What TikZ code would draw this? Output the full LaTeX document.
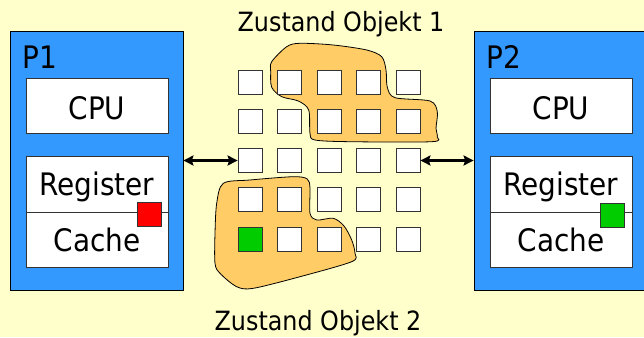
\documentclass[tikz,border=0pt]{standalone}
\usepackage{fontspec}
\setmainfont{DejaVu Sans Condensed}
\usetikzlibrary{arrows.meta}
\definecolor{bgyellow}{HTML}{FFFFCC}
\definecolor{procblue}{HTML}{3399FF}
\definecolor{blobfill}{HTML}{FFCC66}
\definecolor{cellgreen}{HTML}{00CC00}
\definecolor{edgegray}{HTML}{333333}
\tikzset{
  proc/.style={draw=black, line width=0.8pt, fill=procblue, minimum width=173pt, minimum height=259pt, inner sep=0pt},
  unit/.style={draw=edgegray, line width=0.8pt, fill=white, minimum width=142pt, inner sep=0pt,
    font=\fontsize{31}{37}\selectfont, text depth=0pt},
  cell/.style={draw=edgegray, line width=0.8pt, fill=white, minimum size=24pt, inner sep=0pt},
  flag/.style={draw=edgegray, line width=0.8pt, minimum size=24pt, inner sep=0pt},
  blob/.style={draw=black, line width=0.8pt, fill=blobfill},
  plabel/.style={anchor=base west, inner sep=0pt, font=\fontsize{31}{37}\selectfont},
  caption/.style={anchor=base, inner sep=0pt, font=\fontsize{26.5}{32}\selectfont},
  link/.style={line width=3pt, {Stealth[length=10pt,width=10pt,inset=1.5pt]}-{Stealth[length=10pt,width=10pt,inset=1.5pt]}}
}
\begin{document}
\begin{tikzpicture}[x=1pt,y=-1pt]
\fill[bgyellow] (0,0) rectangle (644,337);
\useasboundingbox (0,0) rectangle (644,337);

% processor 1
\node[proc] (p1) at (96.5,160.5) {};
\node[plabel] (p1name) at (22,68) {P1};
\node[unit, minimum height=55pt, text height=27pt] (cpu1) at (97,105.5) {CPU};
\node[unit, minimum height=56pt, text height=22pt] (reg1) at (97,184) {Register};
\node[unit, minimum height=55pt, text height=23pt] (cache1) at (97,239.5) {Cache};
\node[flag, fill=red] (red1) at (149,214) {};

% processor 2
\node[proc] (p2) at (560.5,160.5) {};
\node[plabel] (p2name) at (486,68) {P2};
\node[unit, minimum height=55pt, text height=27pt] (cpu2) at (561,105.5) {CPU};
\node[unit, minimum height=56pt, text height=22pt] (reg2) at (561,184) {Register};
\node[unit, minimum height=55pt, text height=23pt] (cache2) at (561,239.5) {Cache};
\node[flag, fill=cellgreen] (green2) at (612,215.5) {};

% object states
\draw[blob] plot[smooth cycle, tension=0.5] coordinates {
  (271.7,61.7) (286.7,46.7) (300,43.3) (333.3,45) (366.7,50) (381.7,56.7)
  (386,70) (387.3,87.3) (395,97.7) (430,101) (437.3,111.7) (436,128.3)
  (437.3,136.7) (431.7,141.7) (350,141.7) (315,140) (310,133.3) (308.7,110)
  (298.3,101) (281.7,96.7) (271.7,87.3) (270.7,71.7)};
\draw[blob] plot[smooth cycle, tension=0.5] coordinates {
  (223.3,183.3) (250,180) (293.3,176.7) (307.3,179) (310,188.3) (310,213.3)
  (316.7,220) (333.3,218.3) (344,226) (351.7,240) (355,253.3) (351.7,261.7)
  (300,276.7) (253.3,288.3) (236.7,286.7) (220,273.3) (215,263.3) (215,233.3)
  (216.7,203.3)};

% memory cells
\foreach \r in {1,...,5} {
  \foreach \c in {1,...,5} {
    \node[cell] (s-\r-\c) at ({250+(\c-1)*39.5},{82+(\r-1)*39.25}) {};
  }
}
\node[cell, fill=cellgreen] at (s-5-1) {};

\node[caption] (obj1) at (341,32) {Zustand Objekt 1};
\node[caption] (obj2) at (318,330) {Zustand Objekt 2};

% connections
\draw[link] (p1.east |- s-3-1.west) -- (s-3-1.west);
\draw[link] (s-3-5.east) -- (p2.west |- s-3-5.east);
\end{tikzpicture}
\end{document}
